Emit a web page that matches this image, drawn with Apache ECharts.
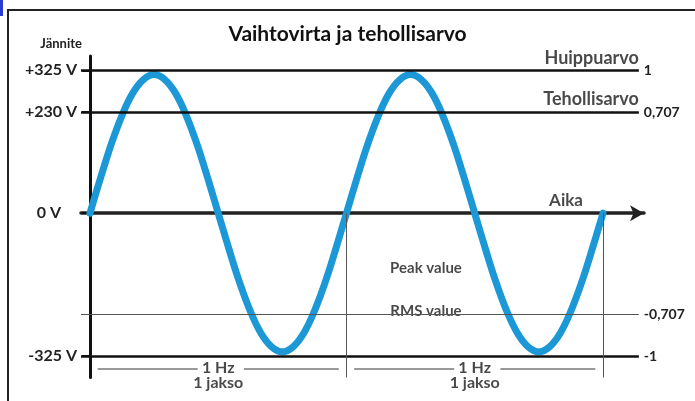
<!DOCTYPE html>
<html lang="fi">
<head>
    <meta charset="UTF-8">
    <title>Vaihtovirta ja tehollisarvo</title>
    <script src="https://cdn.jsdelivr.net/npm/echarts@6/dist/echarts.min.js"></script>
    <style>
        html, body { margin: 0; padding: 0; background: #fff; }
        #chart { width: 695px; height: 401px; }
    </style>
</head>
<body>
    <div id="chart"></div>
    <script type="text/javascript">

        // aika jaksoina (0..2), jännite suhteessa huippuarvoon (luettu kuvasta 1/24 jakson välein)
        var timeJakso = [0, 0.0417, 0.0833, 0.125, 0.1667, 0.2083, 0.25, 0.2917, 0.3333, 0.375, 0.4167, 0.4583,
                         0.5, 0.5417, 0.5833, 0.625, 0.6667, 0.7083, 0.75, 0.7917, 0.8333, 0.875, 0.9167, 0.9583,
                         1, 1.0417, 1.0833, 1.125, 1.1667, 1.2083, 1.25, 1.2917, 1.3333, 1.375, 1.4167, 1.4583,
                         1.5, 1.5417, 1.5833, 1.625, 1.6667, 1.7083, 1.75, 1.7917, 1.8333, 1.875, 1.9167, 1.9583, 2];
        var voltage = [0, 0.25, 0.485, 0.685, 0.84, 0.935, 0.97, 0.935, 0.84, 0.685, 0.485, 0.25,
                       0, -0.25, -0.485, -0.685, -0.84, -0.935, -0.97, -0.935, -0.84, -0.685, -0.485, -0.25,
                       0, 0.25, 0.485, 0.685, 0.84, 0.935, 0.97, 0.935, 0.84, 0.685, 0.485, 0.25,
                       0, -0.25, -0.485, -0.685, -0.84, -0.935, -0.97, -0.935, -0.84, -0.685, -0.485, -0.25, 0];

        // vaakaviivat ja niiden oikean reunan tekstit
        var levels = [1, 0.707, -0.707, -1];
        var levelLabels = ['1', '0,707', '-0,707', '-1'];

        // vasemman reunan asteikko
        var voltTicks = [1, 0.707, 0, -1];
        var voltLabels = ['+325 V', '+230 V', '0 V', '-325 V'];

        // jaksojen rajat ja "1 Hz" -merkinnät
        var periodEdges = [1, 2];
        var periodCenters = [0.5, 1.5];
        var bracketParts = [[0.03, 0.42], [0.6, 0.97], [1.03, 1.42], [1.6, 1.97]];

        var xMin = -0.035, xMax = 2.16, lineEnd = 2.14;
        var bracketY = -1.09;

        var chart = echarts.init(document.getElementById('chart'));
        var font = 'Lato, "Open Sans", sans-serif';

        var sineData = timeJakso.map(function (t, i) { return [t, voltage[i]]; });

        var lineMarks = [];
        levels.forEach(function (v, i) {
            var thin = v < 0 && v > -1;
            lineMarks.push([
                { coord: [xMin, v], lineStyle: { color: thin ? '#555' : '#111', width: thin ? 1 : 2.5, type: 'solid' },
                  label: { show: true, position: 'end', formatter: levelLabels[i], distance: 5,
                           color: '#222', fontFamily: font, fontWeight: 'bold', fontSize: 14 } },
                { coord: [lineEnd, v] }
            ]);
        });
        // nollataso: vain teksti akselin nuolen perään
        lineMarks.push([
            { coord: [xMin, 0], lineStyle: { opacity: 0 },
              label: { show: true, position: 'end', formatter: '0', distance: 12,
                       color: '#222', fontFamily: font, fontWeight: 'bold', fontSize: 14 } },
            { coord: [xMax, 0] }
        ]);
        periodEdges.forEach(function (t) {
            lineMarks.push([
                { coord: [t, 0], lineStyle: { color: '#555', width: 1, type: 'solid' }, label: { show: false } },
                { coord: [t, -1.15] }
            ]);
        });
        bracketParts.forEach(function (p) {
            lineMarks.push([
                { coord: [p[0], bracketY], lineStyle: { color: '#777', width: 1.5, type: 'solid' }, label: { show: false } },
                { coord: [p[1], bracketY] }
            ]);
        });

        var boldText = function (size, align) {
            return { show: true, position: 'inside', color: '#1a1a1a', fontFamily: font,
                     fontWeight: 'bold', fontSize: size, align: align || 'center', verticalAlign: 'middle' };
        };

        var texts = [
            { value: [1.856, 0.09], name: 'Aika', label: boldText(17) },
            { value: [2.14, 1.085], name: 'Huippuarvo', label: boldText(18, 'right') },
            { value: [2.14, 0.80], name: 'Tehollisarvo', label: boldText(18, 'right') },
            { value: [1.31, -0.385], name: 'Peak value', label: boldText(15) },
            { value: [1.31, -0.686], name: 'RMS value', label: boldText(15) }
        ];
        periodCenters.forEach(function (t) {
            var l = boldText(16);
            l.lineHeight = 15;
            texts.push({ value: [t, -1.137], name: '1 Hz\n1 jakso', label: l });
        });

        chart.setOption({
            animation: false,
            backgroundColor: '#fff',
            title: {
                text: 'Vaihtovirta ja tehollisarvo',
                left: 'center',
                top: 19,
                textStyle: { color: '#111', fontFamily: font, fontWeight: 'bold', fontSize: 21 }
            },
            graphic: [
                { type: 'rect', shape: { x: 8, y: 10, width: 720, height: 420 },
                  style: { fill: 'none', stroke: '#222', lineWidth: 2 }, silent: true },
                { type: 'rect', shape: { x: 0, y: 0, width: 3, height: 16 },
                  style: { fill: '#2a3bd0' }, silent: true }
            ],
            grid: { left: 81, right: 51, top: 56, bottom: 23.5 },
            xAxis: {
                type: 'value',
                min: xMin,
                max: xMax,
                axisLine: {
                    onZero: true,
                    symbol: ['none', 'arrow'],
                    symbolSize: [12, 14],
                    lineStyle: { color: '#222', width: 3.5 }
                },
                axisTick: { show: false },
                axisLabel: { show: false },
                splitLine: { show: false }
            },
            yAxis: {
                type: 'value',
                min: -1.15,
                max: 1.1,
                name: 'Jännite',
                nameLocation: 'end',
                nameGap: 6,
                nameTextStyle: { align: 'right', padding: [0, 8, 0, 0], color: '#222',
                                 fontFamily: font, fontWeight: 'bold', fontSize: 13 },
                axisLine: { onZero: true, lineStyle: { color: '#111', width: 3 } },
                axisTick: { show: true, customValues: voltTicks, length: 8, lineStyle: { color: '#111', width: 2 } },
                axisLabel: {
                    customValues: voltTicks,
                    margin: 4,
                    color: '#222', fontFamily: font, fontWeight: 'bold', fontSize: 16,
                    formatter: function (v) {
                        var i = voltTicks.indexOf(v);
                        if (i < 0) return '';
                        return v === 0 ? '{z|' + voltLabels[i] + '}' : voltLabels[i];
                    },
                    rich: { z: { padding: [0, 16, 0, 0], color: '#222', fontFamily: font, fontWeight: 'bold', fontSize: 16 } }
                },
                splitLine: { show: false }
            },
            series: [
                {
                    name: 'Viivat',
                    type: 'line',
                    data: [],
                    silent: true,
                    markLine: { symbol: 'none', silent: true, animation: false, data: lineMarks }
                },
                {
                    name: 'Jännite',
                    type: 'line',
                    data: sineData,
                    smooth: 0.4,
                    showSymbol: false,
                    lineStyle: { color: '#1b98d5', width: 7, cap: 'round', join: 'round' },
                    z: 3
                },
                {
                    name: 'Tekstit',
                    type: 'scatter',
                    symbolSize: 0,
                    clip: false,
                    silent: true,
                    data: texts,
                    label: { formatter: '{b}' },
                    z: 4
                }
            ]
        });
    </script>
</body>
</html>
